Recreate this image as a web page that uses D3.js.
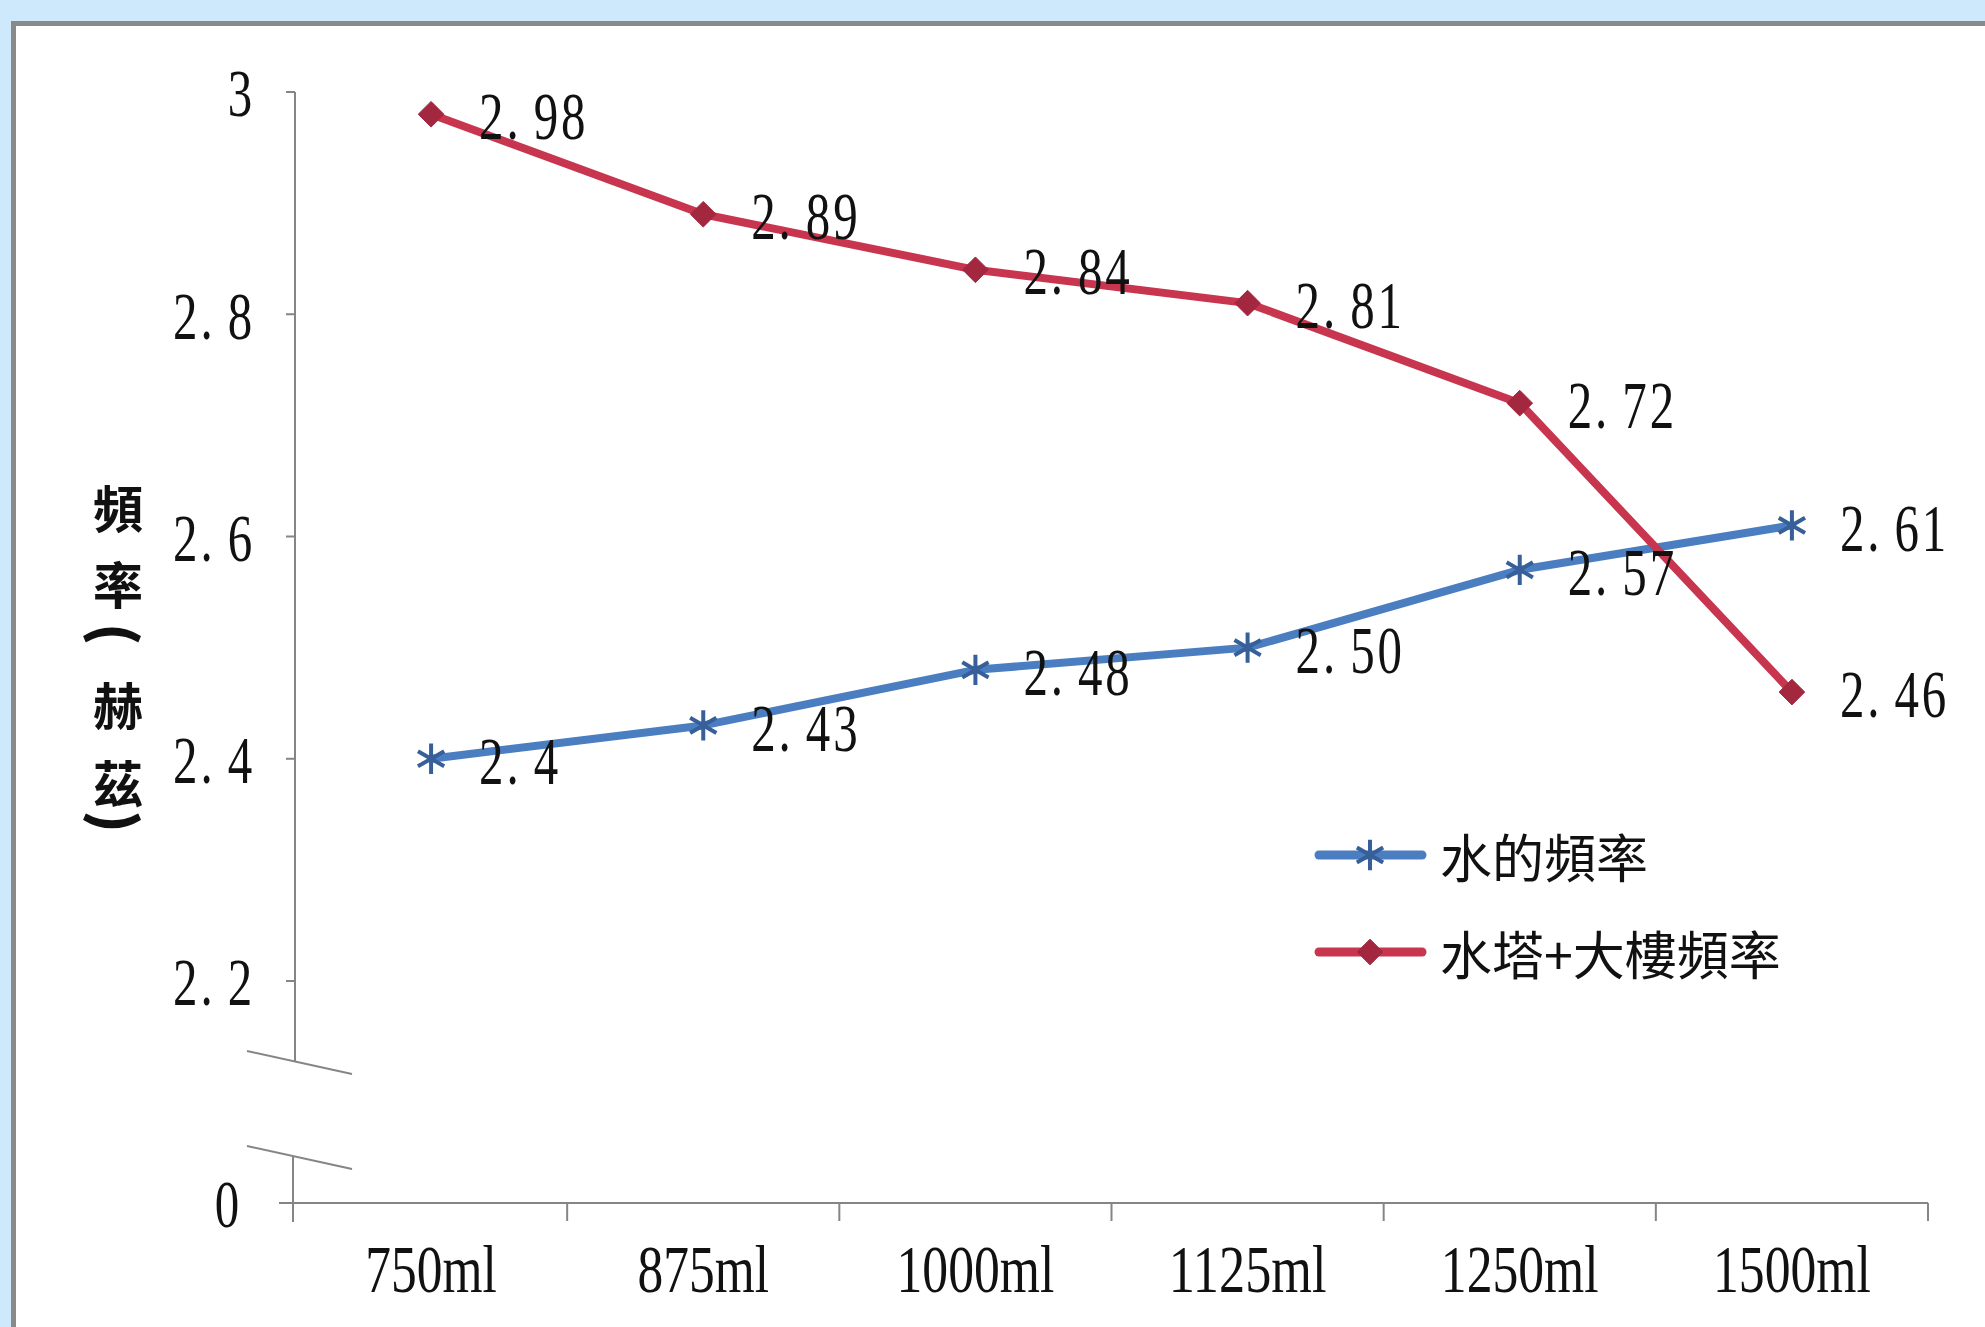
<!DOCTYPE html>
<html>
<head>
<meta charset="utf-8">
<script src="https://cdn.jsdelivr.net/npm/d3@7"></script>
<style>
  html, body { margin: 0; padding: 0; background: #cde9fb; }
  svg { display: block; }
</style>
</head>
<body>
<svg id="chart" width="1985" height="1327"></svg>
<script>
// ---- data ----
const categories   = ["750ml", "875ml", "1000ml", "1125ml", "1250ml", "1500ml"];
const waterFreq    = [2.4, 2.43, 2.48, 2.50, 2.57, 2.61];
const waterLabels  = ["2.4", "2.43", "2.48", "2.50", "2.57", "2.61"];
const towerFreq    = [2.98, 2.89, 2.84, 2.81, 2.72, 2.46];
const towerLabels  = ["2.98", "2.89", "2.84", "2.81", "2.72", "2.46"];
const yTicks       = [0, 2.2, 2.4, 2.6, 2.8, 3];
const yTickLabels  = ["0", "2.2", "2.4", "2.6", "2.8", "3"];
const seriesNames  = ["水的頻率", "水塔+大樓頻率"];
const yTitleChars  = ["頻", "率", "(", "赫", "茲", ")"];

// ---- layout ----
const W = 1985, H = 1327;
const svg = d3.select("#chart");

const BLUE = "#4a7ec0", BLUE_MARK = "#37609a";
const RED = "#c8354f", RED_MARK = "#a3283f";
const AXIS = "#858585";
const CELL = 27.3;          // width of one half-width character cell
const NUM_SIZE = 68;
const SX = 0.72;            // horizontal squeeze for the narrow serif digits
const SERIF = "'Liberation Serif', 'DejaVu Serif', serif";
const CJK = "'Noto Sans CJK TC', 'Noto Sans CJK SC', sans-serif";

// white chart panel with a grey frame on top/left
svg.append("rect").attr("x", 11).attr("y", 21).attr("width", W - 11).attr("height", H - 21)
  .attr("fill", "#ffffff");
svg.append("path").attr("d", `M13.5,${H} V23.5 H${W}`)
  .attr("fill", "none").attr("stroke", "#8a8a8a").attr("stroke-width", 5);

const x = d3.scaleBand().domain(categories).range([295, 1928]).padding(0);
// broken value axis: 0 at the floor, 2.2 .. 3 spread over the plot
const y = d3.scaleLinear().domain([0, 2.2, 3]).range([1203, 981, 92]);
const cx = c => x(c) + x.bandwidth() / 2;

// numeric text laid out in fixed half-width cells
function numText(parent, str, px, py, anchor) {
  const n = str.length, total = n * CELL;
  const start = anchor === "end" ? -total : anchor === "middle" ? -total / 2 : 0;
  const xs = d3.range(n).map(i => ((start + i * CELL + 1) / SX).toFixed(2));
  return parent.append("text")
    .attr("transform", `translate(${px},${py + NUM_SIZE * 0.33}) scale(${SX},1)`)
    .attr("x", xs.join(" ")).attr("y", 0)
    .attr("font-family", SERIF)
    .attr("font-size", NUM_SIZE)
    .attr("fill", "#111")
    .text(str);
}
// category text squeezed to a fixed width
function catText(parent, str, px, py) {
  return parent.append("text")
    .attr("x", px).attr("y", py + NUM_SIZE * 0.33)
    .attr("text-anchor", "middle")
    .attr("font-family", SERIF)
    .attr("font-size", NUM_SIZE)
    .attr("fill", "#111")
    .attr("textLength", str.length * 26.3)
    .attr("lengthAdjust", "spacingAndGlyphs")
    .text(str);
}

// ---- y axis ----
const yAxisX = x.range()[0];
const gY = svg.append("g");
gY.append("line").attr("x1", yAxisX).attr("x2", yAxisX)
  .attr("y1", y(3)).attr("y2", y(2.2) + 80)
  .attr("stroke", AXIS).attr("stroke-width", 2);
gY.append("line").attr("x1", yAxisX - 2).attr("x2", yAxisX - 2)
  .attr("y1", y(0) - 46).attr("y2", y(0) + 19)
  .attr("stroke", AXIS).attr("stroke-width", 2);
// break marks
[y(2.2) + 70, y(0) - 57].forEach(by => {
  gY.append("line").attr("x1", yAxisX - 48).attr("y1", by)
    .attr("x2", yAxisX + 57).attr("y2", by + 23)
    .attr("stroke", AXIS).attr("stroke-width", 2);
});
yTicks.forEach((v, i) => {
  const ty = y(v);
  const len = v === 0 ? 16 : 9;
  gY.append("line").attr("x1", yAxisX - len).attr("x2", yAxisX)
    .attr("y1", ty).attr("y2", ty).attr("stroke", AXIS).attr("stroke-width", 2);
  numText(gY, yTickLabels[i], v === 0 ? 241 : 254, ty + 2, "end");
});

// y axis title, stacked vertically; brackets turned sideways
const titleOffsets = [0, 76, 128, 197, 275, 316];
yTitleChars.forEach((ch, i) => {
  const isBracket = ch === "(" || ch === ")";
  const ty = 506 + titleOffsets[i];
  svg.append("text")
    .attr("transform", isBracket ? `translate(118,${ty}) rotate(90)` : `translate(118,${ty})`)
    .attr("text-anchor", "middle").attr("dominant-baseline", "central")
    .attr("font-family", CJK)
    .attr("font-weight", 700).attr("font-size", isBracket ? 54 : 50).attr("fill", "#111")
    .attr("stroke", isBracket ? "#111" : "none").attr("stroke-width", isBracket ? 1.6 : 0)
    .text(ch);
});

// ---- x axis ----
const gX = svg.append("g");
gX.append("line").attr("x1", yAxisX).attr("x2", x.range()[1])
  .attr("y1", y(0)).attr("y2", y(0)).attr("stroke", AXIS).attr("stroke-width", 2);
const bounds = categories.map(c => x(c)).concat([x.range()[1]]);
bounds.slice(1).forEach(bx => {
  gX.append("line").attr("x1", bx).attr("x2", bx)
    .attr("y1", y(0)).attr("y2", y(0) + 18).attr("stroke", AXIS).attr("stroke-width", 2);
});
categories.forEach(c => catText(gX, c, cx(c), 1270));

// ---- series ----
const line = d3.line().x((d, i) => cx(categories[i])).y(d => y(d));

function drawSeries(values, color) {
  svg.append("path").datum(values)
    .attr("d", line).attr("fill", "none")
    .attr("stroke", color).attr("stroke-width", 8)
    .attr("stroke-linejoin", "round").attr("stroke-linecap", "round");
}
drawSeries(waterFreq, BLUE);
drawSeries(towerFreq, RED);

const star = d3.symbol().type(d3.symbolAsterisk).size(650);
const diamond = d3.symbol().type(d3.symbolDiamond2).size(420);

function waterMarker(g, px, py) {
  g.append("path").attr("d", star()).attr("transform", `translate(${px},${py})`)
    .attr("fill", "none").attr("stroke", BLUE_MARK).attr("stroke-width", 4);
}
function towerMarker(g, px, py) {
  g.append("path").attr("d", diamond()).attr("transform", `translate(${px},${py})`)
    .attr("fill", RED_MARK).attr("stroke", RED_MARK).attr("stroke-width", 1);
}

const gM = svg.append("g");
waterFreq.forEach((v, i) => waterMarker(gM, cx(categories[i]), y(v)));
towerFreq.forEach((v, i) => towerMarker(gM, cx(categories[i]), y(v)));

// data labels to the right of each point
const gL = svg.append("g");
waterFreq.forEach((v, i) => numText(gL, waterLabels[i], cx(categories[i]) + 47, y(v) + 3, "start"));
towerFreq.forEach((v, i) => numText(gL, towerLabels[i], cx(categories[i]) + 47, y(v) + 2, "start"));

// ---- legend ----
const legend = svg.append("g");
const legendRows = [
  { name: seriesNames[0], color: BLUE, marker: waterMarker, ly: 855 },
  { name: seriesNames[1], color: RED,  marker: towerMarker, ly: 952 }
];
legendRows.forEach(r => {
  legend.append("line").attr("x1", 1319).attr("x2", 1422)
    .attr("y1", r.ly).attr("y2", r.ly)
    .attr("stroke", r.color).attr("stroke-width", 9).attr("stroke-linecap", "round");
  r.marker(legend, 1370, r.ly);
  legend.append("text")
    .attr("x", 1440).attr("y", r.ly)
    .attr("dominant-baseline", "central")
    .attr("font-family", CJK)
    .attr("font-size", 52).attr("fill", "#111")
    .text(r.name);
});
</script>
</body>
</html>
